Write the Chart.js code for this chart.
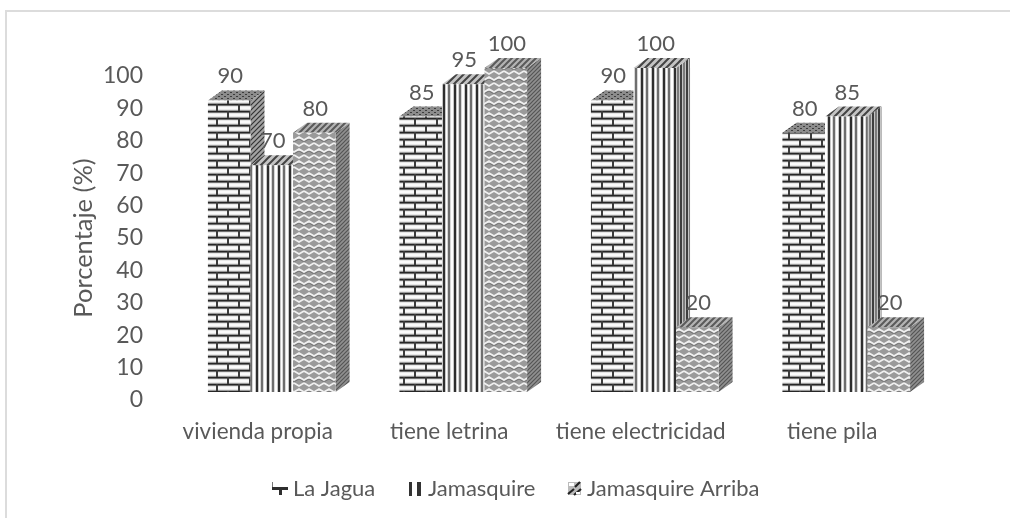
<!DOCTYPE html>
<html><head><meta charset="utf-8">
<style>html,body{margin:0;padding:0;background:#fff}canvas{display:block}</style>
<script src="https://cdn.jsdelivr.net/npm/chart.js@4/dist/chart.umd.js"></script>
</head><body>
<div style="width:1010px;height:518px;position:relative"><canvas id="c" width="1010" height="518"></canvas></div>
<script>
const categories = ['vivienda propia','tiene letrina','tiene electricidad','tiene pila'];
const seriesNames = ['La Jagua','Jamasquire','Jamasquire Arriba'];
const laJagua = [90,85,90,80];
const jamasquire = [70,95,100,85];
const jamasquireArriba = [80,100,20,20];
const yTicks = [0,10,20,30,40,50,60,70,80,90,100];

const FONT = 'Lato, Carlito, sans-serif', TXT = '#595959';

function tile(w,h,draw){
  const t=document.createElement('canvas');t.width=w;t.height=h;
  const g=t.getContext('2d');draw(g);
  return g.canvas;
}
const pat=(cv)=>document.createElement('canvas').getContext('2d').createPattern(cv,'repeat');
const brickTile=()=>tile(22,14,g=>{
  g.fillStyle='#e6e6e6';g.fillRect(0,0,22,14);
  g.fillStyle='#fafafa';g.fillRect(0,3,22,2);g.fillRect(0,10,22,2);
  g.fillStyle='#262626';g.fillRect(0,0,22,1);g.fillRect(0,7,22,1);
  g.fillStyle='#707070';g.fillRect(0,1,22,1);g.fillRect(0,8,22,1);
  g.fillStyle='#9a9a9a';g.fillRect(0,6,22,1);g.fillRect(0,13,22,1);
  g.fillStyle='#3c3c3c';g.fillRect(4,0,2,7);g.fillRect(15,7,2,7);
});
const stripeTile=()=>tile(11,4,g=>{
  g.fillStyle='#fff';g.fillRect(0,0,11,4);
  g.fillStyle='#2e2e2e';g.fillRect(0,0,2,4);
  g.fillStyle='#c8c8c8';g.fillRect(2,0,1,4);g.fillRect(10,0,1,4);
  g.fillStyle='#6e6e6e';g.fillRect(5,0,2,4);
  g.fillStyle='#d8d8d8';g.fillRect(7,0,1,4);g.fillRect(4,0,1,4);
});
const zigTile=()=>tile(20,12,g=>{
  g.fillStyle='#9a9a9a';g.fillRect(0,0,20,12);
  g.strokeStyle='#f0f0f0';g.lineWidth=1.7;
  g.beginPath();
  g.moveTo(-5,1);g.lineTo(0,4);g.lineTo(5,1);g.lineTo(10,4);g.lineTo(15,1);g.lineTo(20,4);g.lineTo(25,1);
  g.moveTo(-5,10);g.lineTo(0,7);g.lineTo(5,10);g.lineTo(10,7);g.lineTo(15,10);g.lineTo(20,7);g.lineTo(25,10);
  g.stroke();
  g.strokeStyle='#6f6f6f';g.lineWidth=.8;
  g.beginPath();
  g.moveTo(-5,3);g.lineTo(0,6);g.lineTo(5,3);g.lineTo(10,6);g.lineTo(15,3);g.lineTo(20,6);g.lineTo(25,3);
  g.stroke();
});
const diagTile=(bg,fg,n,lw)=>tile(n,n,g=>{
  g.fillStyle=bg;g.fillRect(0,0,n,n);
  g.strokeStyle=fg;g.lineWidth=lw;
  g.beginPath();g.moveTo(-1,n+1);g.lineTo(n+1,-1);g.moveTo(-1,1);g.lineTo(1,-1);g.moveTo(n-1,n+1);g.lineTo(n+1,n-1);g.stroke();
});
const dotTile=()=>tile(6,4,g=>{
  g.fillStyle='#8c8c8c';g.fillRect(0,0,6,4);
  g.fillStyle='#3d3d3d';g.fillRect(0,0,2,1);g.fillRect(3,2,2,1);
});

const fronts=[pat(brickTile()),pat(stripeTile()),pat(zigTile())];
const tops=[pat(dotTile()),pat(diagTile('#c4c4c4','#444',7,2)),pat(diagTile('#b4b4b4','#5a5a5a',6,2))];
const sides=[pat(diagTile('#a2a2a2','#333',5,1.2)),pat(tile(6,4,g=>{g.fillStyle='#c4c4c4';g.fillRect(0,0,6,4);g.fillStyle='#3e3e3e';g.fillRect(0,0,2,4);g.fillStyle='#7c7c7c';g.fillRect(3,0,2,4);})),pat(diagTile('#909090','#555',4,1.2))];

const legendIcons=[
  tile(16,16,g=>{g.fillStyle='#2e2e2e';g.fillRect(0,6,16,3);g.fillRect(7,9,3,5);g.fillStyle='#777';g.fillRect(0,1,1,5);}),
  tile(16,16,g=>{g.fillStyle='#333';g.fillRect(1,1,3,14);g.fillRect(9,1,4,14);}),
  tile(16,16,g=>{g.fillStyle='#bbb';g.fillRect(1,1,13,13);g.strokeStyle='#222';g.lineWidth=2.2;g.beginPath();g.moveTo(1,13);g.lineTo(7,8);g.moveTo(7,14);g.lineTo(14,8);g.moveTo(8,6);g.lineTo(13,1);g.stroke();g.fillStyle='#fff';g.fillRect(2,2,5,3);g.fillRect(9,11,4,2);})
];

const DX=14, DY=-10, SHIFT_X=14, SHIFT_Y=-8;

const bars3d={
  id:'bars3d',
  beforeDatasetsDraw(chart){
    const ctx=chart.ctx;
    ctx.save();
    ctx.translate(SHIFT_X,SHIFT_Y);
    chart.getSortedVisibleDatasetMetas().forEach(meta=>{
      const i=meta.index;
      meta.data.forEach(el=>{
        const l=el.x-el.width/2,r=el.x+el.width/2,t=el.y,b=el.base;
        ctx.fillStyle=sides[i];
        ctx.beginPath();ctx.moveTo(r,t);ctx.lineTo(r+DX,t+DY);ctx.lineTo(r+DX,b+DY);ctx.lineTo(r,b);ctx.closePath();ctx.fill();
        ctx.fillStyle=tops[i];
        ctx.beginPath();ctx.moveTo(l,t);ctx.lineTo(l+DX,t+DY);ctx.lineTo(r+DX,t+DY);ctx.lineTo(r,t);ctx.closePath();ctx.fill();
        el.draw(ctx);
      });
    });
    ctx.restore();
    return false;
  },
  afterDraw(chart){
    const ctx=chart.ctx;
    ctx.save();
    ctx.font='22px '+FONT;ctx.fillStyle=TXT;ctx.textAlign='center';ctx.textBaseline='middle';
    chart.getSortedVisibleDatasetMetas().forEach(meta=>{
      const vals=chart.data.datasets[meta.index].data;
      meta.data.forEach((el,k)=>{
        ctx.fillText(String(vals[k]),el.x+SHIFT_X+1,el.y+SHIFT_Y-24);
      });
    });
    ctx.fillStyle='#dcdcdc';
    ctx.fillRect(5,10,1005,2);
    ctx.fillRect(5,10,2,508);
    ctx.textAlign='left';
    const y=489;
    const x=[272,408,567];
    const tx=[293,428,587];
    seriesNames.forEach((n,i)=>{
      ctx.drawImage(legendIcons[i],x[i],y-8);
      ctx.fillStyle=TXT;ctx.fillText(n,tx[i],y);
    });
    ctx.restore();
  }
};

new Chart(document.getElementById('c'),{
  type:'bar',
  data:{labels:categories,datasets:[
    {label:seriesNames[0],data:laJagua,backgroundColor:fronts[0]},
    {label:seriesNames[1],data:jamasquire,backgroundColor:fronts[1]},
    {label:seriesNames[2],data:jamasquireArriba,backgroundColor:fronts[2]}
  ]},
  plugins:[bars3d],
  options:{
    responsive:false,animation:false,
    layout:{padding:{left:68,right:82,top:76,bottom:0}},
    datasets:{bar:{categoryPercentage:2/3,barPercentage:1,borderWidth:0}},
    plugins:{legend:{display:false},tooltip:{enabled:false},title:{display:false}},
    scales:{
      x:{
        afterFit(s){s.height=118;},
        grid:{display:false},border:{display:false},
        ticks:{color:TXT,font:{family:FONT,size:22.5},padding:10,maxRotation:0,autoSkip:false}
      },
      y:{
        min:0,max:100,
        afterFit(s){s.width=94;},
        afterBuildTicks(s){s.ticks=yTicks.map(v=>({value:v}));},
        grid:{display:false},border:{display:false},
        ticks:{color:TXT,font:{family:FONT,size:23},padding:11},
        title:{display:true,text:'Porcentaje (%)',color:TXT,font:{family:FONT,size:25.5},padding:0}
      }
    }
  }
});
</script>
</body></html>
